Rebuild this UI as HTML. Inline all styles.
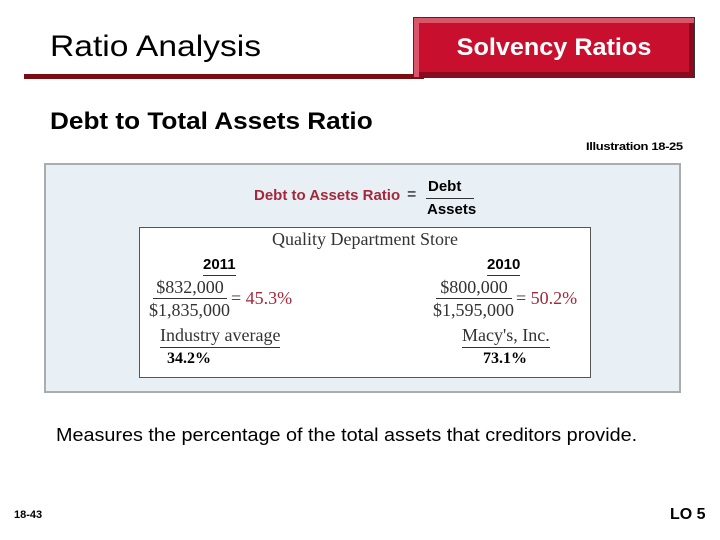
<!DOCTYPE html>
<html><head><meta charset="utf-8"><style>
body{margin:0;width:720px;height:540px;background:#fff;position:relative;overflow:hidden;font-family:"Liberation Sans",sans-serif}
.a{position:absolute;white-space:nowrap}
.s{font-family:"Liberation Serif",serif}
.red{color:#a3283b}
.sx{transform-origin:0 50%}
</style></head><body>
<div class="a sx" style="left:50px;top:29px;font-size:30px;line-height:36px;transform:scaleX(1.12)">Ratio Analysis</div>
<div class="a" style="left:24px;top:74px;width:400px;height:5px;background:#7a0d12"></div>
<div class="a" style="left:413px;top:17px;width:282px;height:61px;box-sizing:border-box;background:#c8102e;border:1px solid #333;box-shadow:inset 5px 5px 0 #d9566a,inset -5px -5px 0 #8a0b1f"></div>
<div class="a" style="left:413px;top:33px;width:282px;text-align:center;color:#fff;font-weight:bold;font-size:24px;line-height:30px;transform:scaleX(1.05)">Solvency Ratios</div>
<div class="a sx" style="left:50px;top:108px;font-weight:bold;font-size:24px;line-height:28px;transform:scaleX(1.09)">Debt to Total Assets Ratio</div>
<div class="a sx" style="left:586px;top:141px;font-weight:bold;font-size:11px;letter-spacing:-0.3px;transform:scaleX(1.18)">Illustration 18-25</div>
<div class="a" style="left:44px;top:163px;width:637px;height:230px;box-sizing:border-box;background:#e8f0f6;border:2px solid #a9adb0"></div>
<div class="a red" style="left:254px;top:187px;font-weight:bold;font-size:15px">Debt to Assets Ratio</div>
<div class="a" style="left:407px;top:186px;font-size:16px">=</div>
<div class="a" style="left:428px;top:178px;font-weight:bold;font-size:15px">Debt</div>
<div class="a" style="left:426px;top:198px;width:48px;height:1px;background:#333"></div>
<div class="a" style="left:427px;top:201px;font-weight:bold;font-size:15px">Assets</div>
<div class="a" style="left:139px;top:227px;width:452px;height:151px;box-sizing:border-box;background:#fff;border:1px solid #555"></div>
<div class="a s" style="left:139px;top:229px;width:452px;text-align:center;font-size:18px;color:#333">Quality Department Store</div>
<div class="a" style="left:203px;top:256px;font-weight:bold;font-size:15px;border-bottom:1px solid #333;padding-bottom:2px">2011</div>
<div class="a s" style="left:150px;top:277px;font-size:18px;color:#333;width:80px;text-align:center">$832,000</div>
<div class="a" style="left:153px;top:298px;width:74px;height:1px;background:#333"></div>
<div class="a s" style="left:149px;top:300px;font-size:18px;color:#333">$1,835,000</div>
<div class="a s" style="left:231px;top:288px;font-size:18px"><span style="color:#333">= </span><span class="red">45.3%</span></div>
<div class="a s" style="left:160px;top:325px;font-size:18px;color:#333;border-bottom:1px solid #333;padding-bottom:1px">Industry average</div>
<div class="a s" style="left:167px;top:350px;font-weight:bold;font-size:16px">34.2%</div>
<div class="a" style="left:487px;top:256px;font-weight:bold;font-size:15px;border-bottom:1px solid #333;padding-bottom:2px">2010</div>
<div class="a s" style="left:434px;top:277px;font-size:18px;color:#333;width:80px;text-align:center">$800,000</div>
<div class="a" style="left:436px;top:298px;width:76px;height:1px;background:#333"></div>
<div class="a s" style="left:433px;top:300px;font-size:18px;color:#333">$1,595,000</div>
<div class="a s" style="left:516px;top:288px;font-size:18px"><span style="color:#333">= </span><span class="red">50.2%</span></div>
<div class="a s" style="left:462px;top:325px;font-size:18px;color:#333;border-bottom:1px solid #333;padding-bottom:1px">Macy's, Inc.</div>
<div class="a s" style="left:483px;top:350px;font-weight:bold;font-size:16px">73.1%</div>
<div class="a sx" style="left:56px;top:425px;font-size:18px;transform:scaleX(1.1)">Measures the percentage of the total assets that creditors provide.</div>
<div class="a" style="left:14px;top:509px;font-weight:bold;font-size:11px">18-43</div>
<div class="a" style="left:670px;top:506px;font-weight:bold;font-size:16px">LO 5</div>
</body></html>
